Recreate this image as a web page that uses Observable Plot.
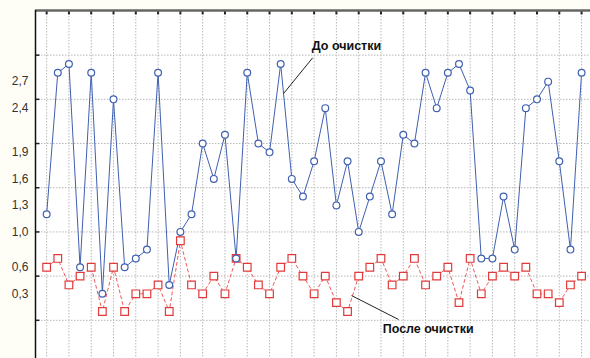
<!DOCTYPE html>
<html>
<head>
<meta charset="utf-8">
<script src="https://cdn.jsdelivr.net/npm/d3@7"></script>
<script src="https://cdn.jsdelivr.net/npm/@observablehq/plot@0.6"></script>
<style>
  html, body { margin: 0; padding: 0; background: #fffef6; }
  #chart svg { display: block; }
</style>
</head>
<body>
<div id="chart"></div>
<script>
// Series values (index 0..48)
const before = [1.2, 2.8, 2.9, 0.6, 2.8, 0.3, 2.5, 0.6, 0.7, 0.8, 2.8, 0.4, 1.0, 1.2, 2.0, 1.6, 2.1, 0.7, 2.8, 2.0,
                1.9, 2.9, 1.6, 1.4, 1.8, 2.4, 1.3, 1.8, 1.0, 1.4, 1.8, 1.2, 2.1, 2.0, 2.8, 2.4, 2.8, 2.9, 2.6, 0.7,
                0.7, 1.4, 0.8, 2.4, 2.5, 2.7, 1.8, 0.8, 2.8];
const after  = [0.6, 0.7, 0.4, 0.5, 0.6, 0.1, 0.6, 0.1, 0.3, 0.3, 0.4, 0.1, 0.9, 0.4, 0.3, 0.5, 0.3, 0.7, 0.6, 0.4,
                0.3, 0.6, 0.7, 0.5, 0.3, 0.5, 0.2, 0.1, 0.5, 0.6, 0.7, 0.4, 0.5, 0.7, 0.4, 0.5, 0.6, 0.2, 0.7, 0.3,
                0.5, 0.6, 0.5, 0.6, 0.3, 0.3, 0.2, 0.4, 0.5];
// Tick labels and grid values
const yTickLabels = [0.3, 0.6, 1.0, 1.3, 1.6, 1.9, 2.4, 2.7];
const yGrid = [0, 0.5, 1.0, 1.5, 2.0, 2.5, 3.0];
const xGrid = d3.range(0, 49, 2);
// Annotations
const labels = [
  {text: "До очистки", x: 26.9, y: 3.10, x1: 23.87, y1: 2.97, x2: 21.26, y2: 2.566},
  {text: "После очистки", x: 34.23, y: -0.093, x1: 27.36, y1: 0.28, x2: 31.58, y2: 0.009}
];

const beforeData = before.map((v, i) => ({i, v}));
const afterData = after.map((v, i) => ({i, v}));

const xDom = [-1, 48.8];
const yDom = [-0.432, 3.505];

const chart = Plot.plot({
  width: 590,
  height: 358,
  marginLeft: 35,
  marginRight: 0,
  marginTop: 10,
  marginBottom: 0,
  style: {background: "#fffef6", fontFamily: "Liberation Sans, Arial, sans-serif", fontSize: "11px", color: "#333"},
  x: {domain: xDom, axis: null},
  y: {domain: yDom, axis: null},
  marks: [
    Plot.frame({fill: "white", stroke: "none"}),
    Plot.gridX(xGrid, {stroke: "#b8b8b8", strokeOpacity: 1, strokeDasharray: "1.5,1.5"}),
    Plot.gridY(yGrid, {stroke: "#b8b8b8", strokeOpacity: 1, strokeDasharray: "1.5,1.5"}),
    Plot.axisY({ticks: yTickLabels, tickSize: 0, tickPadding: 7, tickFormat: d => d3.format(".1f")(d).replace(".", ","), fill: "#333", fontSize: 12}),
    Plot.ruleY(yGrid, {x1: -1, x2: -0.6, stroke: "#222", strokeWidth: 1.5}),
    Plot.ruleX(xGrid, {y1: yDom[1], y2: yDom[1] - 0.05, stroke: "#222", strokeWidth: 2}),
    Plot.ruleY([yDom[1]], {stroke: "#666", strokeWidth: 2.5}),
    Plot.ruleX([xDom[0]], {stroke: "#111", strokeWidth: 1.5}),
    Plot.line(afterData, {x: "i", y: "v", stroke: "#ee5a5a", strokeWidth: 1, strokeDasharray: "3,3"}),
    Plot.line(beforeData, {x: "i", y: "v", stroke: "#3f5fb0", strokeWidth: 1}),
    Plot.dot(afterData, {x: "i", y: "v", symbol: "square", r: 4.3, stroke: "#e23a3a", strokeWidth: 1.2, fill: "white"}),
    Plot.dot(beforeData, {x: "i", y: "v", r: 3.4, stroke: "#3f5fb0", strokeWidth: 1.2, fill: "white"}),
    Plot.link(labels, {x1: "x1", y1: "y1", x2: "x2", y2: "y2", stroke: "#222", strokeWidth: 1}),
    Plot.text(labels, {x: "x", y: "y", text: "text", fontWeight: "bold", fontSize: 12.5, fill: "#111", stroke: "white", strokeWidth: 0})
  ]
});
document.getElementById("chart").appendChild(chart);
</script>
</body>
</html>
